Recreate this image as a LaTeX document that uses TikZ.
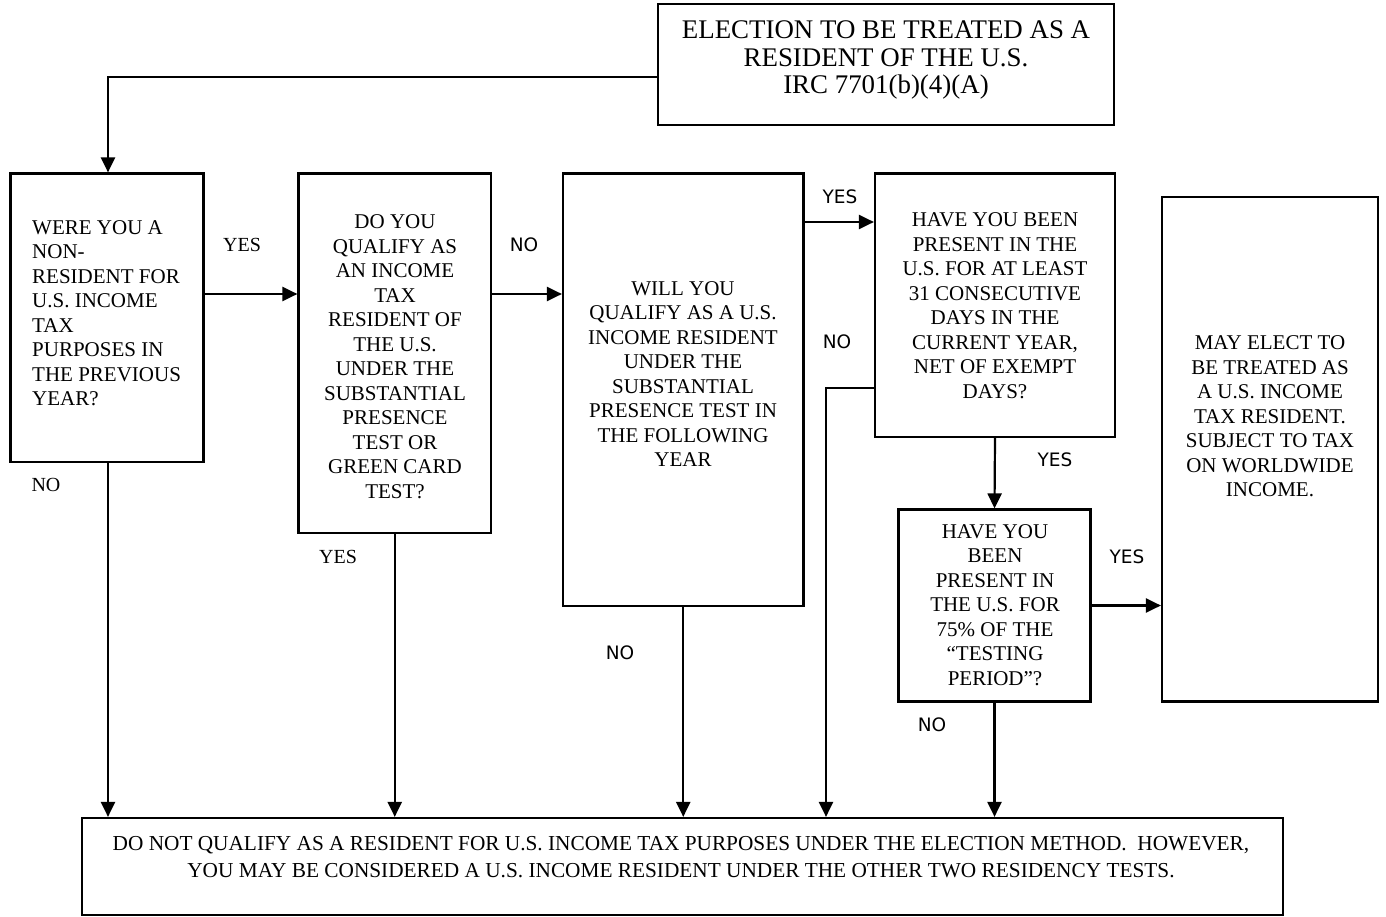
\documentclass[tikz,border=0pt]{standalone}
\usepackage{fontspec}
\setmainfont{Liberation Serif}
\newfontfamily\labsans{DejaVu Sans}
\usetikzlibrary{arrows.meta}
\begin{document}
\begin{tikzpicture}[x=1pt,y=-1pt,
  box/.style={draw, line width=2.2pt, inner sep=0pt, rectangle},
  txt/.style={inner sep=0pt, align=center, font=\fontsize{21}{24.5}\selectfont},
  serlab/.style={inner sep=0pt, font=\fontsize{20}{24}\selectfont},
  sanslab/.style={inner sep=0pt, font=\labsans\fontsize{18.5}{22}\selectfont},
  arr/.style={line width=2.2pt, -{Triangle[length=15pt,width=14pt]}}]
\useasboundingbox[fill=white] (0,0) rectangle (1386,917);

% boxes
\node[box, minimum width=456pt, minimum height=121pt] (top) at (886,64.5) {};
\node[box, minimum width=193pt, minimum height=288.5pt] (b1) at (107,317.75) {};
\node[box, minimum width=192.5pt, minimum height=359.5pt] (b2) at (394.75,353.25) {};
\node[box, minimum width=240.5pt, minimum height=432.5pt] (b3) at (683.25,389.75) {};
\node[box, minimum width=240pt, minimum height=263.5pt] (b4) at (995,305.25) {};
\node[box, minimum width=192pt, minimum height=192pt] (b5) at (994.5,605.5) {};
\node[box, minimum width=216pt, minimum height=504.5pt] (b6) at (1270,449.25) {};
\node[box, minimum width=1201pt, minimum height=97pt] (bot) at (682.5,866.5) {};

% texts
\node[txt, font=\fontsize{26.9}{27.5}\selectfont] (ttop) at (886,60) {ELECTION TO BE TREATED AS A\\RESIDENT OF THE U.S.\\IRC 7701(b)(4)(A)};
\node[txt, align=left, anchor=west] (t1) at (32,313) {WERE YOU A\\NON-\\RESIDENT FOR\\U.S. INCOME\\TAX\\PURPOSES IN\\THE PREVIOUS\\YEAR?};
\node[txt] (t2) at (395,356.7) {DO YOU\\QUALIFY AS\\AN INCOME\\TAX\\RESIDENT OF\\THE U.S.\\UNDER THE\\SUBSTANTIAL\\PRESENCE\\TEST OR\\GREEN CARD\\TEST?};
\node[txt] (t3) at (683,374) {WILL YOU\\QUALIFY AS A U.S.\\INCOME RESIDENT\\UNDER THE\\SUBSTANTIAL\\PRESENCE TEST IN\\THE FOLLOWING\\YEAR};
\node[txt] (t4) at (995,305.5) {HAVE YOU BEEN\\PRESENT IN THE\\U.S. FOR AT LEAST\\31 CONSECUTIVE\\DAYS IN THE\\CURRENT YEAR,\\NET OF EXEMPT\\DAYS?};
\node[txt] (t5) at (995,605) {HAVE YOU\\BEEN\\PRESENT IN\\THE U.S. FOR\\75\% OF THE\\“TESTING\\PERIOD”?};
\node[txt] (t6) at (1270,416.5) {MAY ELECT TO\\BE TREATED AS\\A U.S. INCOME\\TAX RESIDENT.\\SUBJECT TO TAX\\ON WORLDWIDE\\INCOME.};
\node[txt, font=\fontsize{21.3}{27.5}\selectfont] (tbot) at (681,857) {DO NOT QUALIFY AS A RESIDENT FOR U.S. INCOME TAX PURPOSES UNDER THE ELECTION METHOD.\ \ HOWEVER,\\YOU MAY BE CONSIDERED A U.S. INCOME RESIDENT UNDER THE OTHER TWO RESIDENCY TESTS.};

% labels
\node[serlab] (l1) at (242,245) {YES};
\node[serlab] (l2) at (46,485) {NO};
\node[sanslab] (l3) at (524,245) {NO};
\node[serlab] (l4) at (338,557) {YES};
\node[sanslab] (l5) at (840,197) {YES};
\node[sanslab] (l6) at (837,342) {NO};
\node[sanslab] (l7) at (1055,460) {YES};
\node[sanslab] (l8) at (1127,557) {YES};
\node[sanslab] (l9) at (932,725) {NO};
\node[sanslab] (l10) at (620,653) {NO};

% helper coordinates
\coordinate (ytop) at (0,77);
\coordinate (xa) at (108,0);
\coordinate (ya) at (0,294);
\coordinate (yb) at (0,222);
\coordinate (yc) at (0,388);
\coordinate (xc) at (826,0);

% connectors
\draw[arr] (top.west |- ytop) -- (xa |- ytop) -- (xa |- b1.north);
\draw[arr] (b1.east |- ya) -- (b2.west |- ya);
\draw[arr] (b2.east |- ya) -- (b3.west |- ya);
\draw[arr] (b3.east |- yb) -- (b4.west |- yb);
\draw[arr] (b4.west |- yc) -- (xc |- yc) -- (xc |- bot.north);
\draw[arr] (b4.south) -- (b5.north);
\draw[arr] (b5.east) -- (b6.west |- b5.east);
\draw[arr] (b5.south) -- (b5.south |- bot.north);
\draw[arr] (xa |- b1.south) -- (xa |- bot.north);
\draw[arr] (b2.south) -- (b2.south |- bot.north);
\draw[arr] (b3.south) -- (b3.south |- bot.north);
\end{tikzpicture}
\end{document}
